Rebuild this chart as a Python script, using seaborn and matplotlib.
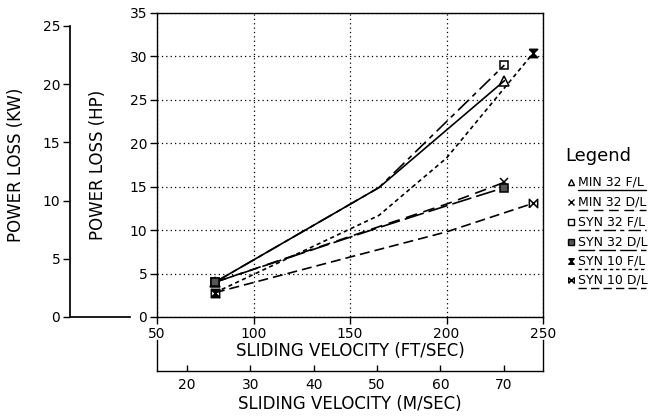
import numpy as np
import pandas as pd
import matplotlib
matplotlib.use("Agg")
import matplotlib.pyplot as plt
from matplotlib.lines import Line2D
import seaborn as sns

# Data (x in ft/sec, y in HP)
x_min32_fl = [80, 165, 230]
y_min32_fl = [4.0, 14.9, 27.2]
x_min32_dl = [80, 165, 200, 230]
y_min32_dl = [4.0, 10.4, 13.0, 15.5]
x_syn32_fl = [80, 165, 230]
y_syn32_fl = [4.0, 14.9, 29.0]
x_syn32_dl = [80, 165, 200, 230]
y_syn32_dl = [4.0, 10.3, 12.8, 14.9]
x_syn10_fl = [80, 165, 200, 245]
y_syn10_fl = [2.8, 11.7, 18.3, 30.4]
x_syn10_dl = [80, 150, 200, 245]
y_syn10_dl = [2.8, 6.9, 9.8, 13.1]

labels = ["MIN 32 F/L", "MIN 32 D/L", "SYN 32 F/L", "SYN 32 D/L", "SYN 10 F/L", "SYN 10 D/L"]

FT_PER_M = 3.2808
HP_PER_KW = 1.34102

sns.set_theme(style="ticks")
plt.rcParams['font.family'] = ['DejaVu Sans']
plt.rcParams.update({"text.color": "black", "axes.labelcolor": "black",
                     "xtick.color": "black", "ytick.color": "black"})

hourglass = [(-1, 1), (1, 1), (-1, -1), (1, -1), (-1, 1)]
bowtie = [(-1, -1), (-1, 1), (1, -1), (1, 1), (-1, -1)]

styles = [
    dict(ls="-", marker="^", mfc="none", ms=7),
    dict(ls=(0, (7, 4)), marker="x", mfc="none", ms=6),
    dict(ls=(0, (9, 3, 3, 3)), marker="s", mfc="none", ms=6),
    dict(ls=(0, (12, 3)), marker="s", mfc="#555555", ms=6),
    dict(ls=(0, (2.5, 2)), marker=hourglass, mfc="black", ms=6),
    dict(ls=(0, (6, 3)), marker=bowtie, mfc="none", ms=6),
]

series = [
    (x_min32_fl, y_min32_fl), (x_min32_dl, y_min32_dl),
    (x_syn32_fl, y_syn32_fl), (x_syn32_dl, y_syn32_dl),
    (x_syn10_fl, y_syn10_fl), (x_syn10_dl, y_syn10_dl),
]

W, H = 650, 420
fig = plt.figure(figsize=(6.5, 4.2), dpi=100)

def fx(px):
    return px / W

def fy(py):
    return (H - py) / H

# main axes (HP vs ft/sec)
ax = fig.add_axes([fx(157), fy(317), fx(543) - fx(157), fy(13) - fy(317)])
for (xs, ys), st in zip(series, styles):
    df = pd.DataFrame({"x": xs, "y": ys})
    sns.lineplot(data=df, x="x", y="y", ax=ax, color="black", lw=1.2,
                 linestyle=st["ls"], marker=st["marker"], markersize=st["ms"],
                 markerfacecolor=st["mfc"], markeredgecolor="black",
                 markeredgewidth=1.1, markevery=[0, len(xs) - 1])

ax.set_xlim(50, 250)
ax.set_ylim(0, 35)
ax.set_xticks(np.arange(50, 251, 50))
ax.set_yticks(np.arange(0, 36, 5))
ax.grid(True, color="black", ls=(0, (1, 2.5)), lw=0.9)
for s in ax.spines.values():
    s.set_visible(True)
    s.set_color("black")
    s.set_linewidth(1.0)
ax.tick_params(axis="both", direction="out", length=5, width=1, color="black",
               labelsize=10, pad=2)
ax.set_xlabel("SLIDING VELOCITY (FT/SEC)", fontsize=12, labelpad=1)
ax.set_ylabel("POWER LOSS (HP)", fontsize=12)
ax.yaxis.set_label_coords((107 - 157) / 386, 0.5)

# lower axis in m/sec
ax2 = fig.add_axes([fx(157), fy(371), fx(543) - fx(157), fy(340) - fy(371)])
ax2.patch.set_visible(False)
ax2.set_xlim(50 / FT_PER_M, 250 / FT_PER_M)
ax2.set_xticks(np.arange(20, 71, 10))
ax2.set_yticks([])
ax2.spines["top"].set_visible(False)
for k in ["left", "right", "bottom"]:
    ax2.spines[k].set_color("black")
    ax2.spines[k].set_linewidth(1.0)
ax2.tick_params(axis="x", direction="in", length=4, width=1, color="black",
                labelsize=10, pad=5)
ax2.set_xlabel("SLIDING VELOCITY (M/SEC)", fontsize=12, labelpad=2)

# left axis in kW
ax3 = fig.add_axes([fx(70), fy(317), fx(130) - fx(70), fy(13) - fy(317)])
ax3.patch.set_visible(False)
ax3.set_ylim(0, 35 / HP_PER_KW)
ax3.set_yticks(np.arange(0, 26, 5))
ax3.set_xticks([])
ax3.spines["top"].set_visible(False)
ax3.spines["right"].set_visible(False)
ax3.spines["left"].set_bounds(0, 25)
ax3.spines["left"].set_color("black")
ax3.spines["bottom"].set_color("black")
ax3.tick_params(axis="y", direction="out", length=5, width=1, color="black",
                labelsize=10, pad=2)
ax3.set_ylabel("POWER LOSS (KW)", fontsize=12)
ax3.yaxis.set_label_coords((25 - 70) / 60, 0.5)

# legend with underlined labels showing the line style
fig.text(fx(598), fy(156), "Legend", fontsize=13, ha="center", va="center")
rows = [182, 202, 222, 242, 261, 280]
for lab, st, r in zip(labels, styles, rows):
    fig.add_artist(Line2D([fx(571)], [fy(r)], marker=st["marker"], ms=st["ms"] - 2,
                          mfc=st["mfc"], mec="black", mew=1.0, ls="none"))
    fig.text(fx(578), fy(r), lab, fontsize=9, ha="left", va="center")
    fig.add_artist(Line2D([fx(578), fx(646)], [fy(r + 8), fy(r + 8)],
                          color="black", lw=1.0, ls=st["ls"]))

fig.savefig("out.png", dpi=100)
